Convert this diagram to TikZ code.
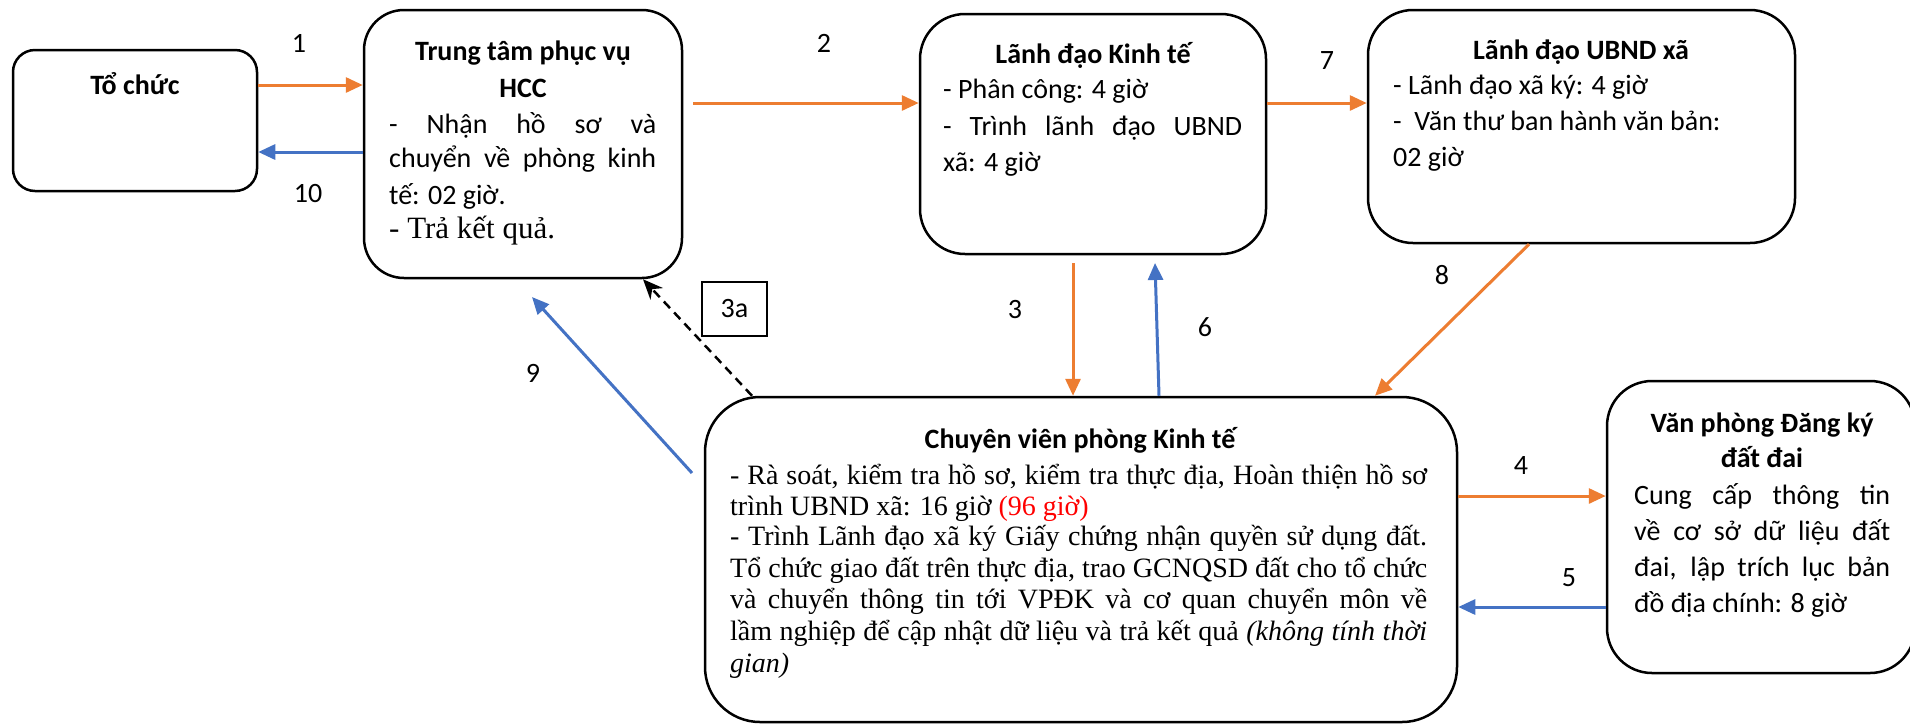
\documentclass[tikz,border=0pt]{standalone}
\usepackage{fontspec}
\setmainfont{Liberation Serif}
\newfontfamily\carl{Carlito}
\usetikzlibrary{arrows.meta}
\definecolor{orC}{HTML}{ED7D31}
\definecolor{blC}{HTML}{4472C4}
\newcommand\cfont{\carl\fontsize{28}{34}\selectfont}
\newcommand\cbold{\carl\bfseries\fontsize{28}{34}\selectfont}
\newcommand\sfontB{\fontsize{31}{36}\selectfont}
\newcommand\sfontE{\fontsize{28}{32}\selectfont}
\tikzset{
  box/.style={draw, line width=2.5pt, inner sep=0pt},
  oarr/.style={draw=orC, line width=3pt, -{Triangle[length=17pt,width=15pt]}},
  barr/.style={draw=blC, line width=3pt, -{Triangle[length=17pt,width=15pt]}},
  darr/.style={draw=black, line width=2.5pt, dash pattern=on 9pt off 6pt, -{Stealth[length=20pt,width=17pt]}},
  txt/.style={inner sep=0pt, anchor=base west, font=\cfont},
  ttl/.style={inner sep=0pt, anchor=base, font=\cbold},
  serB/.style={inner sep=0pt, anchor=base west, font=\sfontB},
  serE/.style={inner sep=0pt, anchor=base west, font=\sfontE},
  lbl/.style={inner sep=0pt, font=\cfont},
}
\begin{document}
\begin{tikzpicture}[x=1pt,y=-1pt]
\fill[white] (0,0) rectangle (1910,724);
\useasboundingbox (0,0) rectangle (1910,724);

% boxes
\node[box, rounded corners=22pt, minimum width=244pt, minimum height=141pt] (a) at (135,120.5) {};
\node[box, rounded corners=40pt, minimum width=318pt, minimum height=268pt] (b) at (523,144) {};
\node[box, rounded corners=45pt, minimum width=346pt, minimum height=240pt] (c) at (1093,134) {};
\node[box, rounded corners=45pt, minimum width=427pt, minimum height=233pt] (d) at (1581.5,126.5) {};
\node[box, rounded corners=55pt, minimum width=752pt, minimum height=325pt] (e) at (1081,559.5) {};
\node[box, rounded corners=45pt, minimum width=308pt, minimum height=292pt] (f) at (1761,527) {};

% box A
\node[ttl] (at1) at (135,94) {Tổ chức};

% box B
\node[ttl] (bt1) at (523,60) {Trung tâm phục vụ};
\node[ttl] (bt2) at (523,97) {HCC};
\node[txt] (bl1) at (389,133) {\makebox[267pt][s]{- Nhận hồ sơ và}};
\node[txt] (bl2) at (389,167) {\makebox[267pt][s]{chuyển về phòng kinh}};
\node[txt] (bl3) at (389,204) {tế: 02 giờ.};
\node[serB] (bl4) at (389,238) {- Trả kết quả.};

% box C
\node[ttl] (ct1) at (1093,63) {Lãnh đạo Kinh tế};
\node[txt] (cl1) at (943,98) {- Phân công: 4 giờ};
\node[txt] (cl2) at (943,135) {\makebox[299pt][s]{- Trình lãnh đạo UBND}};
\node[txt] (cl3) at (943,171) {xã: 4 giờ};

% box D
\node[ttl] (dt1) at (1581,59) {Lãnh đạo UBND xã};
\node[txt] (dl1) at (1393,94) {- Lãnh đạo xã ký: 4 giờ};
\node[txt] (dl2) at (1393,130) {-\ \ Văn thư ban hành văn bản:};
\node[txt] (dl3) at (1393,166) {02 giờ};

% box E
\node[ttl] (et1) at (1080,448) {Chuyên viên phòng Kinh tế};
\node[serE] (el1) at (730,484) {\makebox[697pt][s]{- Rà soát, kiểm tra hồ sơ, kiểm tra thực địa, Hoàn thiện hồ sơ}};
\node[serE] (el2) at (730,515) {trình UBND xã: 16 giờ \textcolor{red}{(96 giờ)}};
\node[serE] (el3) at (730,545) {\makebox[697pt][s]{- Trình Lãnh đạo xã ký Giấy chứng nhận quyền sử dụng đất.}};
\node[serE] (el4) at (730,577) {\makebox[697pt][s]{Tổ chức giao đất trên thực địa, trao GCNQSD đất cho tổ chức}};
\node[serE] (el5) at (730,608) {\makebox[697pt][s]{và chuyển thông tin tới VPĐK và cơ quan chuyển môn về}};
\node[serE] (el6) at (730,640) {\makebox[697pt][s]{lầm nghiệp để cập nhật dữ liệu và trả kết quả \textit{(không tính thời}}};
\node[serE] (el7) at (730,672) {\textit{gian)}};

% box F
\node[ttl] (ft1) at (1762,432) {Văn phòng Đăng ký};
\node[ttl] (ft2) at (1762,467) {đất đai};
\node[txt] (fl1) at (1634,504) {\makebox[256pt][s]{Cung cấp thông tin}};
\node[txt] (fl2) at (1634,540) {\makebox[256pt][s]{về cơ sở dữ liệu đất}};
\node[txt] (fl3) at (1634,576) {\makebox[256pt][s]{đai, lập trích lục bản}};
\node[txt] (fl4) at (1634,612) {đồ địa chính: 8 giờ};

% 3a box
\node[draw, line width=2pt, minimum width=65pt, minimum height=54pt, inner sep=0pt, font=\cfont] (l3a) at (734.5,309) {3a};

% connectors
\draw[oarr] (a.east |- 0,85) -- (b.west |- 0,85);
\draw[barr] (b.west |- 0,152) -- (a.east |- 0,152);
\coordinate (s2) at (693,103);
\draw[oarr] (s2) -- (c.west |- s2);
\draw[oarr] (c.east |- 0,103) -- (d.west |- 0,103);
\coordinate (s3) at (1073,263);
\draw[oarr] (s3) -- (s3 |- e.north);
\coordinate (t6) at (1155,263);
\draw[barr] (e.north -| 1159,0) -- (t6);
\draw[oarr] (d.south -| 1529,0) -- (e.north -| 1375,0);
\draw[oarr] (e.east |- 0,496) -- (f.west |- 0,496);
\draw[barr] (f.west |- 0,607) -- (e.east |- 0,607);
\coordinate (s9) at (692,473);
\coordinate (t9) at (532,297);
\draw[barr] (s9) -- (t9);
\draw[darr] (e.north -| 752,0) -- (b.south -| 643,0);

% labels
\node[lbl] (n1) at (299,43) {1};
\node[lbl] (n10) at (308,194) {10};
\node[lbl] (n2) at (824,43) {2};
\node[lbl] (n7) at (1327,61) {7};
\node[lbl] (n3) at (1015,310) {3};
\node[lbl] (n6) at (1205,327) {6};
\node[lbl] (n8) at (1442,275) {8};
\node[lbl] (n4) at (1521,465) {4};
\node[lbl] (n5) at (1569,578) {5};
\node[lbl] (n9) at (533,373) {9};
\end{tikzpicture}
\end{document}
